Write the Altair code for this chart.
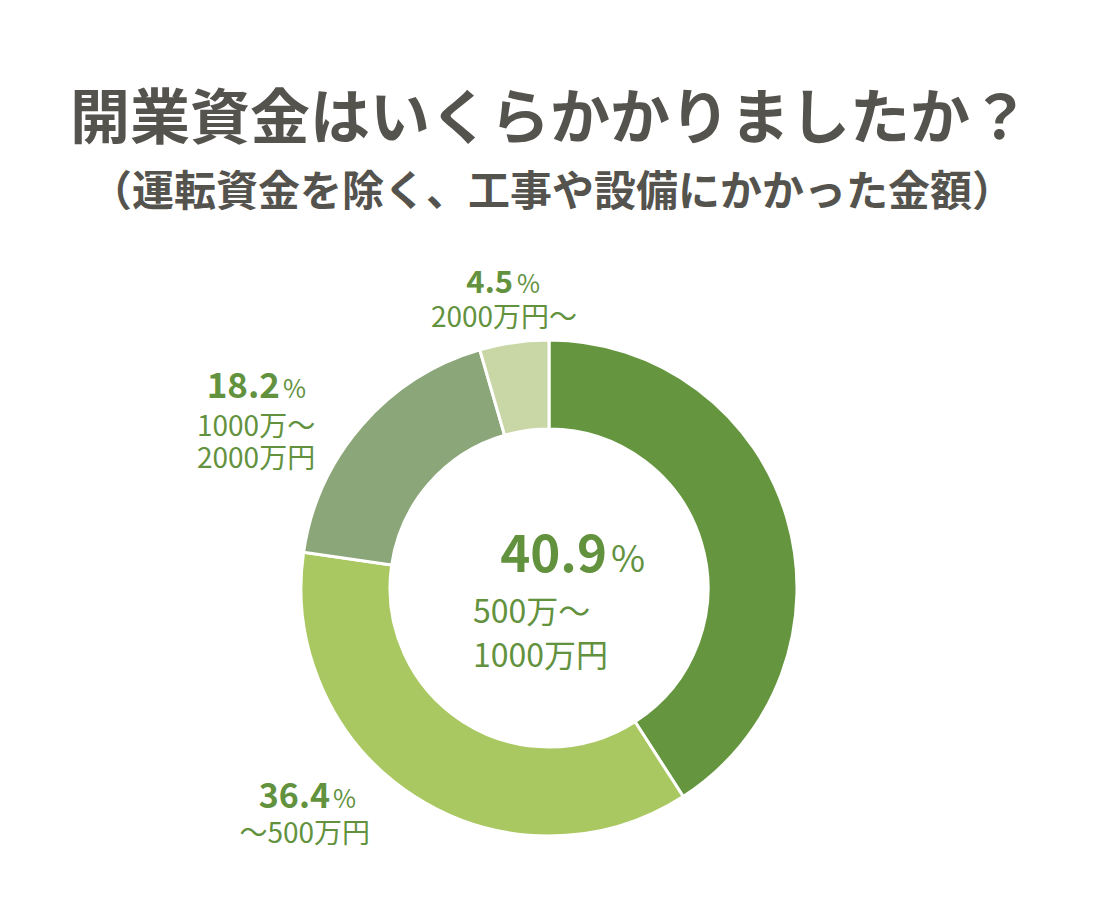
import altair as alt
import pandas as pd

# ---- data ----
categories = ["500万〜1000万円", "〜500万円", "1000万〜2000万円", "2000万円〜"]
values = [40.9, 36.4, 18.2, 4.5]
colors = ["#65963F", "#A9C861", "#8BA679", "#C9D7A6"]
pct_labels = ["40.9", "36.4", "18.2", "4.5"]
sub_labels = [["500万〜", "1000万円"], ["〜500万円"], ["1000万〜", "2000万円"], ["2000万円〜"]]

title = "開業資金はいくらかかりましたか？"
subtitle = "（運転資金を除く、工事や設備にかかった金額）"

# ---- layout (page pixel coords; chart origin is at page (8,8)) ----
M = 8
CX, CY = 549, 588
R_OUT, R_IN = 248, 159
GREEN = "#63923E"
GRAY = "#55534E"
FONT = "Noto Sans CJK JP"

# number: (right x, baseline y, size); percent: (left x, size); sub lines: (x, y, align, size)
num_layout = [(607, 572, 51), (330, 808, 34), (280, 398, 35), (513, 293, 31)]
pct_layout = [(611, 37), (333, 25), (283, 25), (517, 25)]
sub_layout = [
    [(473, 623, "left", 32), (473, 667, "left", 32)],
    [(370, 843, "right", 28)],
    [(197, 436, "left", 28), (197, 468, "left", 28)],
    [(504, 327, "center", 28)],
]

df = pd.DataFrame({"cat": categories, "value": values, "idx": list(range(len(values)))})

arcs = alt.Chart(df).mark_arc(
    innerRadius=R_IN, outerRadius=R_OUT, stroke="white", strokeWidth=3
).encode(
    theta=alt.Theta("value:Q", stack=True),
    color=alt.Color("cat:N", scale=alt.Scale(domain=categories, range=colors), legend=None),
    order=alt.Order("idx:Q"),
    x=alt.value(CX - M),
    y=alt.value(CY - M),
)

layers = [arcs]

def text_layer(rows, weight, color, align, baseline="alphabetic"):
    d = pd.DataFrame(rows)
    return alt.Chart(d).mark_text(
        font=FONT, fontWeight=weight, color=color, align=align, baseline=baseline
    ).encode(
        x=alt.X("x:Q", scale=None),
        y=alt.Y("y:Q", scale=None),
        text="t:N",
        size=alt.Size("s:Q", scale=None, legend=None),
    )

# titles
layers.append(text_layer([{"x": 550 - M, "y": 139 - M, "t": title, "s": 60}], "bold", GRAY, "center"))
layers.append(text_layer([{"x": 552 - M, "y": 206 - M, "t": subtitle, "s": 42}], "bold", GRAY, "center"))

# numbers
num_rows = [{"x": x - M, "y": y - M, "t": t, "s": s} for t, (x, y, s) in zip(pct_labels, num_layout)]
layers.append(text_layer(num_rows, "bold", GREEN, "right"))

# percent signs
pct_rows = [{"x": px - M, "y": y - M, "t": "%", "s": s}
            for (px, s), (_, y, _) in zip(pct_layout, num_layout)]
layers.append(text_layer(pct_rows, "normal", GREEN, "left"))

# sub labels
for align in ["left", "right", "center"]:
    rows = []
    for lines, lay in zip(sub_labels, sub_layout):
        for line, (x, y, a, s) in zip(lines, lay):
            if a == align:
                rows.append({"x": x - M, "y": y - M, "t": line, "s": s})
    if rows:
        layers.append(text_layer(rows, "normal", GREEN, align))

chart = alt.layer(*layers).properties(
    width=1083, height=904, autosize=alt.AutoSizeParams(type="none"), padding=0,
    background="white"
).configure_view(stroke=None)

chart.save("out.html", embed_options={"renderer": "svg", "actions": False})
